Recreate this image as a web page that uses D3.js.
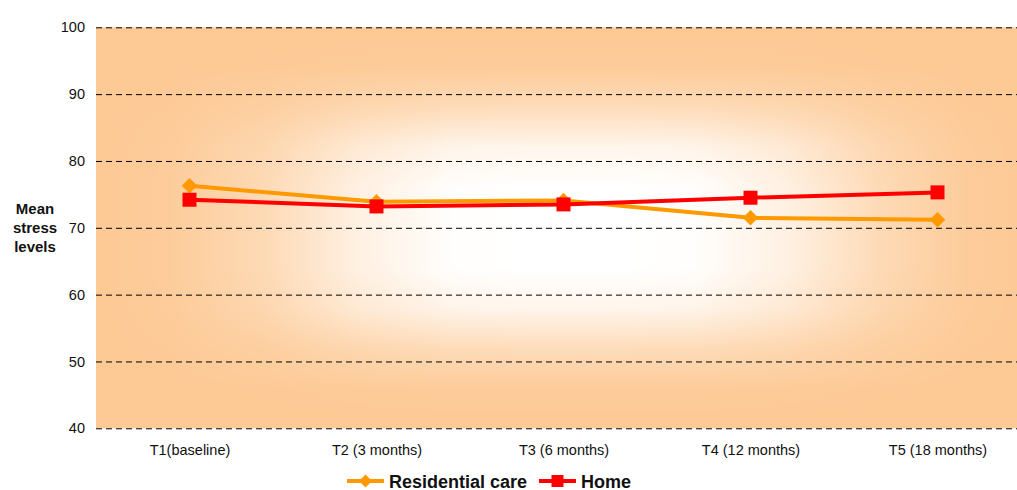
<!DOCTYPE html>
<html>
<head>
<meta charset="utf-8">
<script src="https://cdn.jsdelivr.net/npm/d3@7"></script>
<style>
  html, body { margin: 0; padding: 0; background: #fff; }
  svg { display: block; font-family: "Liberation Sans", Arial, sans-serif; }
</style>
</head>
<body>
<svg id="chart" width="1017" height="490"></svg>
<script>
// Time points of the study and mean stress scores per care setting
const categories = ["T1(baseline)", "T2 (3 months)", "T3 (6 months)", "T4 (12 months)", "T5 (18 months)"];
const residentialCare = [76.3, 73.9, 74.1, 71.5, 71.2];
const home = [74.2, 73.2, 73.5, 74.5, 75.3];
const yTicks = [40, 50, 60, 70, 80, 90, 100];
const seriesNames = ["Residential care", "Home"];

const svg = d3.select("#chart");
const plot = { left: 96, top: 27.3, width: 935, height: 401 };

const x = d3.scalePoint()
  .domain(categories)
  .range([plot.left, plot.left + plot.width])
  .padding(0.5);

const y = d3.scaleLinear()
  .domain([40, 100])
  .range([plot.top + plot.height, plot.top]);

// ---- background: light orange with a soft white glow in the centre ----
const defs = svg.append("defs");

function rampGradient(id, x2, y2, stops) {
  const g = defs.append("linearGradient")
    .attr("id", id)
    .attr("x1", 0).attr("y1", 0).attr("x2", x2).attr("y2", y2);
  stops.forEach(([o, v]) => {
    const c = Math.round(v * 255);
    g.append("stop").attr("offset", o).attr("stop-color", `rgb(${c},${c},${c})`);
  });
}
rampGradient("fadeH", 1, 0, [
  [0, 0], [0.08, 0.05], [0.18, 0.3], [0.28, 0.72], [0.38, 0.97], [0.46, 1],
  [0.56, 1], [0.64, 0.97], [0.74, 0.72], [0.84, 0.3], [0.93, 0.05], [1, 0]
]);
rampGradient("fadeV", 0, 1, [
  [0, 0], [0.1, 0.04], [0.2, 0.35], [0.3, 0.82], [0.4, 1],
  [0.6, 1], [0.7, 0.82], [0.8, 0.35], [0.9, 0.04], [1, 0]
]);
defs.append("mask").attr("id", "maskH")
  .append("rect")
  .attr("x", plot.left).attr("y", plot.top)
  .attr("width", plot.width).attr("height", plot.height)
  .attr("fill", "url(#fadeH)");
defs.append("mask").attr("id", "maskV")
  .append("rect")
  .attr("x", plot.left).attr("y", plot.top)
  .attr("width", plot.width).attr("height", plot.height)
  .attr("fill", "url(#fadeV)");

svg.append("rect")
  .attr("x", plot.left).attr("y", plot.top)
  .attr("width", plot.width).attr("height", plot.height)
  .attr("fill", "#FDCA96");
svg.append("g").attr("mask", "url(#maskH)")
  .append("rect")
  .attr("mask", "url(#maskV)")
  .attr("x", plot.left).attr("y", plot.top)
  .attr("width", plot.width).attr("height", plot.height)
  .attr("fill", "#ffffff");

// ---- dashed horizontal gridlines ----
const grid = svg.append("g")
  .attr("transform", `translate(${plot.left},0)`)
  .call(d3.axisLeft(y).tickValues(yTicks).tickSize(-plot.width).tickFormat(""));
grid.select(".domain").remove();
grid.selectAll(".tick line")
  .attr("stroke", "#000")
  .attr("stroke-width", 1)
  .attr("stroke-dasharray", "6,4");

// ---- y axis labels ----
const yAxis = svg.append("g")
  .attr("transform", `translate(${plot.left},0)`)
  .call(d3.axisLeft(y).tickValues(yTicks).tickSize(0).tickPadding(11));
yAxis.select(".domain").remove();
yAxis.selectAll(".tick text")
  .attr("font-family", "Liberation Sans, Arial, sans-serif")
  .attr("font-size", "14.5px")
  .attr("fill", "#111");

// ---- x axis labels ----
const xAxis = svg.append("g")
  .attr("transform", `translate(0,${plot.top + plot.height})`)
  .call(d3.axisBottom(x).tickSize(0).tickPadding(16));
xAxis.select(".domain").remove();
xAxis.selectAll(".tick text")
  .attr("font-family", "Liberation Sans, Arial, sans-serif")
  .attr("font-size", "14.5px")
  .attr("fill", "#111");

// ---- y axis title ----
const title = svg.append("text")
  .attr("text-anchor", "middle")
  .attr("font-weight", "bold")
  .attr("font-size", "15px")
  .attr("fill", "#111");
["Mean", "stress", "levels"].forEach((t, i) => {
  title.append("tspan")
    .attr("x", 35)
    .attr("y", 213.5 + i * 19.2)
    .text(t);
});

// ---- series ----
const series = [
  { name: seriesNames[0], values: residentialCare, color: "#FF9900", shape: "diamond" },
  { name: seriesNames[1], values: home, color: "#FF0000", shape: "square" }
];

const line = d3.line()
  .x((d, i) => x(categories[i]))
  .y(d => y(d));

// diamond = square turned by 45 degrees; `span` is the tip-to-tip / side size
function markerPath(shape, span) {
  return shape === "diamond"
    ? d3.symbol(d3.symbolSquare, span * span / 2)()
    : d3.symbol(d3.symbolSquare, span * span)();
}

series.forEach(s => {
  const g = svg.append("g");
  g.append("path")
    .datum(s.values)
    .attr("d", line)
    .attr("fill", "none")
    .attr("stroke", s.color)
    .attr("stroke-width", 4)
    .attr("stroke-linejoin", "round");
  g.selectAll("path.pt")
    .data(s.values)
    .join("path")
    .attr("class", "pt")
    .attr("d", markerPath(s.shape, s.shape === "diamond" ? 15.5 : 14))
    .attr("transform", (d, i) =>
      `translate(${x(categories[i])},${y(d)})` + (s.shape === "diamond" ? " rotate(45)" : ""))
    .attr("fill", s.color);
});

// ---- legend ----
const legendItems = [
  { x: 347, series: series[0] },
  { x: 539, series: series[1] }
];
const legendY = 481;
legendItems.forEach(item => {
  const s = item.series;
  const g = svg.append("g").attr("transform", `translate(${item.x},${legendY})`);
  g.append("line")
    .attr("x1", 0).attr("x2", 37)
    .attr("y1", 0).attr("y2", 0)
    .attr("stroke", s.color)
    .attr("stroke-width", 4);
  g.append("path")
    .attr("d", markerPath(s.shape, s.shape === "diamond" ? 13 : 12))
    .attr("transform", `translate(18.5,0)` + (s.shape === "diamond" ? " rotate(45)" : ""))
    .attr("fill", s.color);
  g.append("text")
    .attr("x", 42)
    .attr("y", 6.5)
    .attr("font-size", "18px")
    .attr("font-weight", "bold")
    .attr("fill", "#111")
    .text(s.name);
});
</script>
</body>
</html>
